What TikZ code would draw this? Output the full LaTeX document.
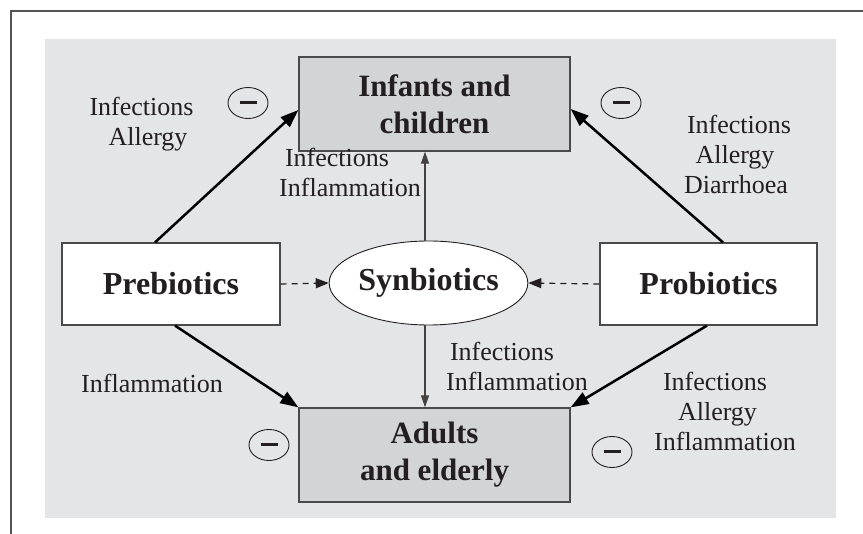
\documentclass[tikz,border=0pt]{standalone}
\usepackage{fontspec}
\setmainfont{Liberation Serif}
\usetikzlibrary{arrows.meta,shapes.geometric}
\definecolor{bggray}{HTML}{E4E5E7}
\definecolor{boxgray}{HTML}{D3D4D6}
\definecolor{txt}{HTML}{231F20}
\definecolor{bord}{HTML}{4A4A4A}
\definecolor{frame}{HTML}{555555}
\newcommand{\mvr}[2]{\hspace*{#1}#2\hspace*{-#1}}
\tikzset{
  grp/.style={draw=bord, line width=1.3pt, fill=boxgray, minimum width=271pt, minimum height=94pt, inner sep=0pt, align=center, text=txt, font=\bfseries\fontsize{31}{37}\selectfont},
  agent/.style={draw=bord, line width=1.2pt, fill=white, minimum height=82pt, inner sep=0pt, align=center, text=txt, font=\bfseries\fontsize{32}{37}\selectfont},
  synb/.style={ellipse, draw=txt, line width=0.9pt, fill=white, minimum width=173pt, minimum height=84pt, inner sep=0pt, text=txt, font=\bfseries\fontsize{32}{37}\selectfont},
  lbl/.style={align=center, text=txt, inner sep=0pt, font=\fontsize{26}{30}\selectfont},
  thick arrow/.style={draw=black, line width=2.5pt, -{Triangle[length=18pt,width=13pt]}},
  thin arrow/.style={draw=txt!85, line width=1.1pt, -{Triangle[length=12pt,width=8pt]}},
  dash arrow/.style={draw=txt, line width=1.2pt, dash pattern=on 6pt off 5pt, -{Triangle[length=13pt,width=10pt]}},
  minus/.style={ellipse, draw=txt, line width=0.9pt, minimum width=40pt, minimum height=31pt, inner sep=0pt}
}
\begin{document}
\begin{tikzpicture}[x=1pt,y=-1pt]
\useasboundingbox (0,0) rectangle (863,534);
\fill[white] (0,0) rectangle (863,534);
% frame
\draw[frame, line width=1.8pt] (11,534) -- (11,11) -- (863,11);
% background
\fill[bggray] (45,39) rectangle (836,518);
% nodes
\node[grp] (inf) at (434.5,104) {Infants and\\children};
\node[grp] (adu) at (434.5,455) {Adults\\and elderly};
\node[agent, minimum width=218pt] (pre) at (171,284) {Prebiotics};
\node[agent, minimum width=217pt] (pro) at (708.5,284) {Probiotics};
\node[synb] (syn) at (428.5,283) {Synbiotics};
% arrows
\draw[thick arrow] ([xshift=-16pt]pre.north) -- ([yshift=-6pt]inf.west);
\draw[thick arrow] ([xshift=14.5pt]pro.north) -- ([yshift=-5pt]inf.east);
\draw[thick arrow] ([xshift=4pt]pre.south) -- (adu.north west);
\draw[thick arrow] ([xshift=-1.5pt]pro.south) -- (adu.north east);
\draw[dash arrow] (pre.east) -- (syn.west);
\draw[dash arrow] (pro.west) -- (syn.east);
\coordinate (vt) at ([xshift=-3.5pt]syn.north);
\coordinate (vb) at ([xshift=-3.5pt]syn.south);
\draw[thin arrow] (vt) -- (vt |- inf.south);
\draw[thin arrow] (vb) -- (vb |- adu.north);
% minus signs
\foreach \n/\p in {m1/{(248,103)}, m2/{(621,103)}, m3/{(269,445)}, m4/{(612,452)}}{
  \node[minus] (\n) at \p {};
  \draw[txt, line width=3pt] ([xshift=-8.5pt]\n.center) -- ([xshift=8.5pt]\n.center);
}
% labels
\node[lbl] (l1) at (145,124) {\mvr{-3.5pt}{Infections}\\\mvr{3pt}{Allergy}};
\node[lbl] (l2) at (343.5,172) {\mvr{-6.5pt}{Infections}\\\mvr{6.5pt}{Inflammation}};
\node[lbl] (l3) at (736,154) {\mvr{3pt}{Infections}\\\mvr{-2pt}{Allergy}\\Diarrhoea};
\node[lbl] (l4) at (152,383) {Inflammation};
\node[lbl] (l5) at (510,366) {\mvr{-8pt}{Infections}\\\mvr{7pt}{Inflammation}};
\node[lbl] (l6) at (720,411) {\mvr{-5pt}{Infections}\\\mvr{-5pt}{Allergy}\\\mvr{5pt}{Inflammation}};
\end{tikzpicture}
\end{document}
